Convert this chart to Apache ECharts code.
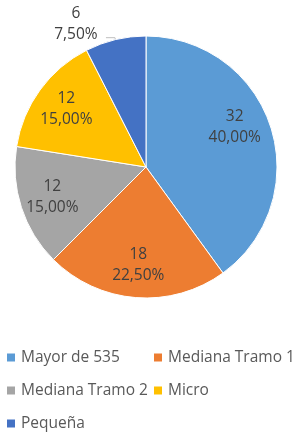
<!DOCTYPE html>
<html>
<head>
<meta charset="utf-8">
<script src="https://cdn.jsdelivr.net/npm/echarts@6/dist/echarts.min.js"></script>
<style>
  html, body { margin: 0; padding: 0; background: #fff; }
  #grafico { width: 294px; height: 435px; }
</style>
</head>
<body>
<div id="grafico"></div>
<script>
// Datos de la gráfica
const categorias = ['Mayor de 535', 'Mediana Tramo 1', 'Mediana Tramo 2', 'Micro', 'Pequeña'];
const valores = [32, 18, 12, 12, 6];
const colores = ['#5B9BD5', '#ED7D31', '#A5A5A5', '#FFC000', '#4472C4'];

const fuente = '"Open Sans", "Noto Sans", sans-serif';

// Formato de porcentaje con coma decimal
function formatoEtiqueta(p) {
    return '{v|' + p.value + '}\n{v|' + p.percent.toFixed(2).replace('.', ',') + '%}';
}

const datosPie = categorias.map((nombre, i) => ({
    name: nombre,
    value: valores[i],
    itemStyle: { color: colores[i] }
}));

// Serie invisible solo para colocar las etiquetas más hacia el borde
const datosEtiquetas = categorias.map((nombre, i) => {
    const item = { name: nombre, value: valores[i] };
    if (nombre === 'Mayor de 535') {
        item.label = { offset: [-5, -9] };
    }
    if (nombre === 'Pequeña') {
        item.label = {
            position: 'outside',
            padding: [0, 0, 28, 0]
        };
        item.labelLine = {
            show: true,
            length: 2,
            length2: 9,
            lineStyle: { color: '#bfbfbf', width: 1 }
        };
    }
    return item;
});

const estiloLeyenda = { color: '#595959', fontSize: 15.5, fontFamily: fuente, lineHeight: 19 };

const grafico = echarts.init(document.getElementById('grafico'));
grafico.setOption({
    animation: false,
    backgroundColor: '#ffffff',
    legend: [
        {
            orient: 'vertical',
            left: 5,
            top: 348,
            height: 120,
            padding: 0,
            icon: 'rect',
            itemWidth: 10,
            itemHeight: 10,
            itemGap: 14,
            selectedMode: false,
            data: ['Mayor de 535', 'Mediana Tramo 2', 'Pequeña'],
            textStyle: estiloLeyenda
        },
        {
            orient: 'vertical',
            left: 152,
            top: 348,
            height: 120,
            padding: 0,
            icon: 'rect',
            itemWidth: 10,
            itemHeight: 10,
            itemGap: 14,
            selectedMode: false,
            data: ['Mediana Tramo 1', 'Micro'],
            textStyle: estiloLeyenda
        }
    ],
    series: [
        {
            name: 'Empresas',
            type: 'pie',
            center: [146, 167],
            radius: [0, 131],
            startAngle: 90,
            clockwise: true,
            label: { show: false },
            labelLine: { show: false },
            emphasis: { disabled: true },
            itemStyle: { borderColor: '#ffffff', borderWidth: 1 },
            data: datosPie
        },
        {
            name: 'Etiquetas',
            type: 'pie',
            center: [146, 167],
            radius: [60, 131],
            startAngle: 90,
            clockwise: true,
            silent: true,
            emphasis: { disabled: true },
            itemStyle: { color: 'rgba(0,0,0,0)' },
            label: {
                show: true,
                position: 'inside',
                formatter: formatoEtiqueta,
                rich: {
                    v: {
                        width: 50,
                        align: 'center',
                        color: '#404040',
                        fontSize: 15.5,
                        lineHeight: 21,
                        fontFamily: fuente
                    }
                }
            },
            labelLine: { show: false },
            data: datosEtiquetas
        }
    ]
});
</script>
</body>
</html>
